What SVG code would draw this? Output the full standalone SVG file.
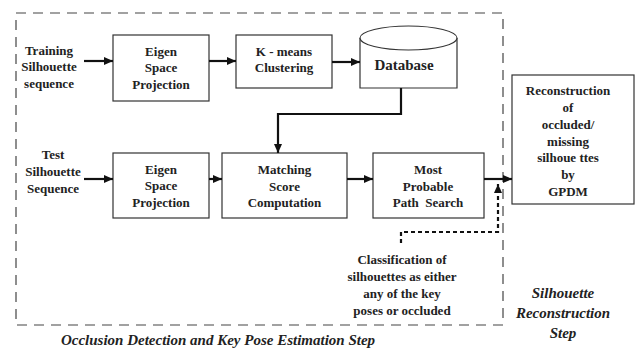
<svg xmlns="http://www.w3.org/2000/svg" width="635" height="350" viewBox="0 0 635 350">
<style>
text{font-weight:700;fill:#222;text-anchor:middle}
.t{font-size:13px}
.it{font-style:italic;font-size:15px}
.box{fill:#fff;stroke:#333;stroke-width:1.2}
.c{fill:none;stroke:#111;stroke-width:2.2}
.d{fill:none;stroke:#111;stroke-width:2.2;stroke-dasharray:4,3}
.frame{fill:none;stroke:#444;stroke-width:1.2;stroke-dasharray:10,7}
</style>
<defs>
<marker id="ah" markerWidth="10" markerHeight="10" refX="9" refY="5" orient="auto" markerUnits="userSpaceOnUse">
<path d="M0,1 L9,5 L0,9 Z" fill="#111"/>
</marker>
</defs>
<rect x="0" y="0" width="635" height="350" fill="#fff"/>
<rect class="frame" x="16" y="13" width="487" height="312"/>
<g font-family="Liberation Serif, serif">
<g id="training-label"><text class="t" x="49" y="55">Training</text><text class="t" x="49" y="71">Silhouette</text><text class="t" x="49" y="88">sequence</text></g>
<g id="eigen1"><rect class="box" x="113" y="35" width="96" height="66"/><text class="t" x="161" y="56">Eigen</text><text class="t" x="161" y="72">Space</text><text class="t" x="161" y="89">Projection</text></g>
<g id="kmeans"><rect class="box" x="236" y="35" width="96" height="53"/><text class="t" x="284" y="56">K - means</text><text class="t" x="284" y="72">Clustering</text></g>
<g id="database"><path class="box" d="M360,38 L360,88 L457,88 L457,38"/><ellipse class="box" cx="408.5" cy="38" rx="48.5" ry="12"/><text x="404" y="70" font-size="15">Database</text></g>

<g id="test-label"><text class="t" x="53" y="159">Test</text><text class="t" x="53" y="176">Silhouette</text><text class="t" x="53" y="193">Sequence</text></g>
<g id="eigen2"><rect class="box" x="113" y="153" width="96" height="65"/><text class="t" x="161" y="174">Eigen</text><text class="t" x="161" y="190">Space</text><text class="t" x="161" y="207">Projection</text></g>
<g id="matching"><rect class="box" x="222" y="153" width="125" height="65"/><text class="t" x="284.5" y="174">Matching</text><text class="t" x="284.5" y="191">Score</text><text class="t" x="284.5" y="207">Computation</text></g>
<g id="mostprobable"><rect class="box" x="373" y="153" width="111" height="65"/><text class="t" x="428" y="174">Most</text><text class="t" x="428" y="191">Probable</text><text class="t" x="428" y="207" xml:space="preserve">Path  Search</text></g>
<g id="reconstruction"><rect class="box" x="512" y="75" width="122" height="129"/><text class="t" x="568" y="95">Reconstruction</text><text class="t" x="568" y="112">of</text><text class="t" x="568" y="129">occluded/</text><text class="t" x="568" y="146">missing</text><text class="t" x="568" y="162" xml:space="preserve">silhoue ttes</text><text class="t" x="568" y="179">by</text><text class="t" x="568" y="196">GPDM</text></g>

<g id="classification"><text class="t" x="402" y="264">Classification of</text><text class="t" x="402" y="281">silhouettes as either</text><text class="t" x="402" y="298">any of the key</text><text class="t" x="402" y="315">poses or occluded</text></g>
<g id="recon-step"><text class="it" x="563" y="298">Silhouette</text><text class="it" x="563" y="318">Reconstruction</text><text class="it" x="563" y="338">Step</text></g>
<g id="occl-step"><text class="it" x="218" y="345">Occlusion Detection and Key Pose Estimation Step</text></g>
</g>
<g id="connectors">
<path class="c" d="M84,61 L113,61" marker-end="url(#ah)"/>
<path class="c" d="M209,61 L236,61" marker-end="url(#ah)"/>
<path class="c" d="M332,62 L360,62" marker-end="url(#ah)"/>
<path class="c" d="M401,88 L401,114 L278,114 L278,153" marker-end="url(#ah)"/>
<path class="c" d="M84,179 L113,179" marker-end="url(#ah)"/>
<path class="c" d="M209,179 L222,179" marker-end="url(#ah)"/>
<path class="c" d="M347,179 L373,179" marker-end="url(#ah)"/>
<path class="c" d="M484,179 L512,179" marker-end="url(#ah)"/>
<path class="d" d="M401,243 L401,232 L498,232 L498,184" marker-end="url(#ah)"/>
</g>
</svg>
